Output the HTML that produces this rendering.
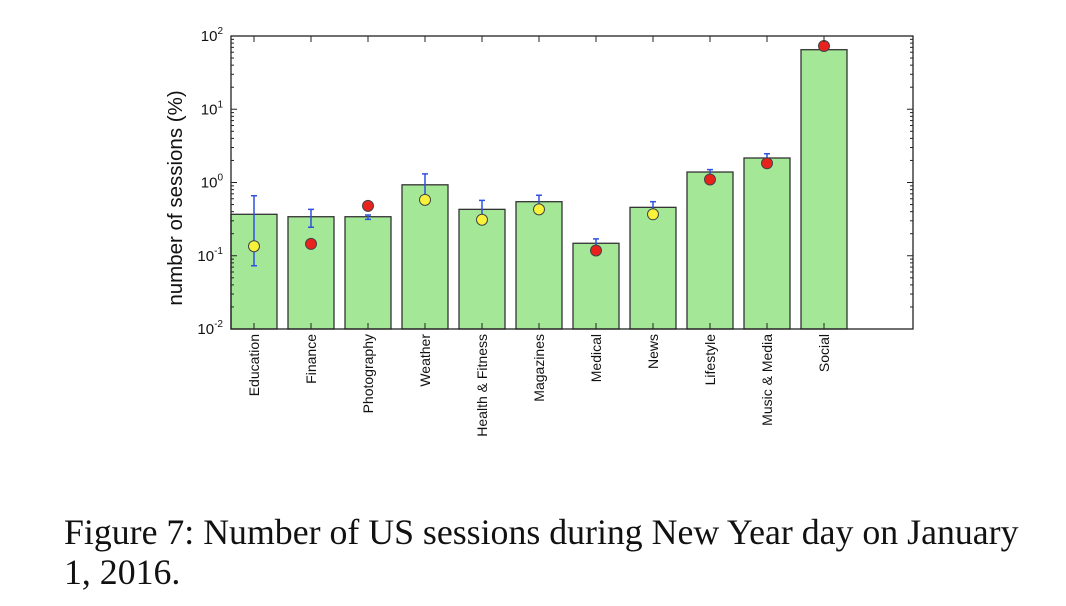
<!DOCTYPE html>
<html><head><meta charset="utf-8"><style>
body{margin:0;background:#fff;width:1066px;height:606px;overflow:hidden}
svg{display:block}
.cap{position:absolute;left:64px;top:512px;font-family:"Liberation Serif",serif;font-size:35.8px;line-height:40px;color:#111;width:1000px;white-space:nowrap}
</style></head><body>
<svg id="chart" width="1066" height="500" xmlns="http://www.w3.org/2000/svg" font-family="Liberation Sans, sans-serif"></svg>
<div class="cap">Figure 7: Number of US sessions during New Year day on January<br>1, 2016.</div>
<script>
const categories=["Education","Finance","Photography","Weather","Health & Fitness","Magazines","Medical","News","Lifestyle","Music & Media","Social"];
const barValues=[0.368,0.341,0.341,0.93,0.43,0.547,0.148,0.458,1.39,2.16,65];
const markerValues=[0.135,0.145,0.48,0.58,0.31,0.43,0.118,0.368,1.1,1.83,73];
const markerColors=["yellow","red","red","yellow","yellow","yellow","red","yellow","red","red","red"];
const errLow=[0.073,0.245,0.314,0.62,0.33,0.45,0.12,0.42,1.2,1.9,70];
const errHigh=[0.66,0.43,0.36,1.31,0.57,0.67,0.17,0.547,1.5,2.47,76];
const yTickExps=[-2,-1,0,1,2];

const svg=document.getElementById('chart');
const NS='http://www.w3.org/2000/svg';
const L=231,R=913,T=36,B=329;
const yMinE=-2,yMaxE=2;
function y(v){return B-(Math.log10(v)-yMinE)/(yMaxE-yMinE)*(B-T);}
function xc(i){return 254+57*i;}
const bw=46;
function mk(tag,attrs,parent){const e=document.createElementNS(NS,tag);for(const k in attrs)e.setAttribute(k,attrs[k]);(parent||svg).appendChild(e);return e;}

const bars=mk('g',{});


categories.forEach((c,i)=>{
  const top=y(barValues[i]);
  const r=mk('rect',{x:xc(i)-bw/2,y:top,width:bw,height:B-top,fill:'#a4e897',stroke:'#333','stroke-width':1.3},bars);
  
  
});
categories.forEach((c,i)=>{
  const g=mk('g',{});
  
  
  const y1=y(errLow[i]),y2=y(errHigh[i]),x=xc(i);
  mk('line',{x1:x,x2:x,y1:y1,y2:y2,stroke:'#3050e0','stroke-width':1.5},g);
  mk('line',{x1:x-3,x2:x+3,y1:y1,y2:y1,stroke:'#3050e0','stroke-width':1.5},g);
  mk('line',{x1:x-3,x2:x+3,y1:y2,y2:y2,stroke:'#3050e0','stroke-width':1.5},g);
});
categories.forEach((c,i)=>{
  const m=mk('circle',{cx:xc(i),cy:y(markerValues[i]),r:5.5,fill:markerColors[i]==='red'?'#e8231e':'#f8f23a',stroke:'#444','stroke-width':1});
  
  
});
const fr=mk('rect',{x:L,y:T,width:R-L,height:B-T,fill:'none',stroke:'#222','stroke-width':1.3});


yTickExps.forEach(e=>{
  const yy=y(Math.pow(10,e));
  mk('line',{x1:L,x2:L+6,y1:yy,y2:yy,stroke:'#222'});
  mk('line',{x1:R,x2:R-6,y1:yy,y2:yy,stroke:'#222'});
  const t=mk('text',{x:L-8,y:yy+5,'text-anchor':'end','font-size':15,fill:'#111'});
  
  
  t.textContent='10';
  const s=mk('tspan',{dy:-7,'font-size':10},t);s.textContent=String(e);
  if(e<yMaxE){for(let k=2;k<10;k++){const my=y(k*Math.pow(10,e));
    mk('line',{x1:L,x2:L+3,y1:my,y2:my,stroke:'#222'});
    mk('line',{x1:R,x2:R-3,y1:my,y2:my,stroke:'#222'});}}
});
categories.forEach((c,i)=>{
  const x=xc(i);
  mk('line',{x1:x,x2:x,y1:B,y2:B-6,stroke:'#222'});
  mk('line',{x1:x,x2:x,y1:T,y2:T+6,stroke:'#222'});
  const t=mk('text',{x:0,y:0,transform:`translate(${x+5},${B+5}) rotate(-90)`,'text-anchor':'end','font-size':14,fill:'#111'});
  
  
  t.textContent=c;
});
const yl=mk('text',{x:0,y:0,transform:`translate(182,198) rotate(-90)`,'text-anchor':'middle','font-size':20.5,fill:'#111'});


yl.textContent='number of sessions (%)';
</script>
</body></html>
